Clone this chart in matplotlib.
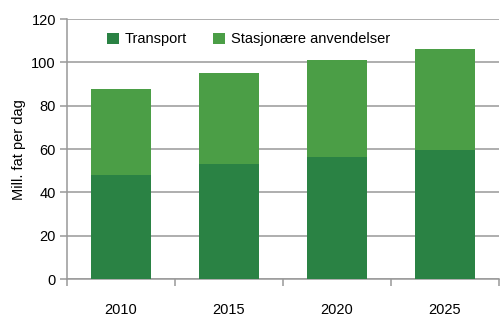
import matplotlib.pyplot as plt
import numpy as np

plt.rcParams['font.family'] = ['Liberation Sans', 'DejaVu Sans']

years = ['2010', '2015', '2020', '2025']
transport = [48, 53, 56.5, 59.5]
stasjonaere = [39.5, 42, 44.5, 46.5]

dark = '#2a8244'
light = '#4b9e46'

fig = plt.figure(figsize=(5, 3.28), dpi=100)
ax = fig.add_axes([0.134, 0.149, 0.864, 0.793])

x = np.arange(len(years))
ax.bar(x, transport, width=0.555, color=dark, linewidth=0,
       label='Transport', zorder=3)
ax.bar(x, stasjonaere, bottom=transport, width=0.555, color=light,
       linewidth=0, label='Stasjonære anvendelser', zorder=3)

ax.set_xlim(-0.5, 3.5)
ax.set_ylim(0, 120)
ax.set_yticks(range(0, 121, 20))
ax.yaxis.grid(True, color='#999999', linewidth=1.1, zorder=0)
ax.tick_params(axis='y', length=5, color='#999999', width=1.1, labelsize=10.5, pad=3)

ax.set_xticks(x)
ax.set_xticklabels(years)
ax.set_xticks(np.arange(-0.5, 4, 1), minor=True)
ax.tick_params(axis='x', which='major', length=0, labelsize=10.5, pad=17)
ax.tick_params(axis='x', which='minor', length=5, color='#999999', width=1.1)

for s in ['top', 'right']:
    ax.spines[s].set_visible(False)
ax.spines['left'].set_color('#999999')
ax.spines['bottom'].set_color('#999999')
ax.spines['left'].set_linewidth(1.1)
ax.spines['bottom'].set_linewidth(1.1)

ax.set_ylabel('Mill. fat per dag', fontsize=10.5, labelpad=4)

leg = ax.legend(loc='upper center', bbox_to_anchor=(0.42, 1.0), ncol=2, frameon=True,
                facecolor='white', edgecolor='none', framealpha=1, fontsize=10.5,
                handlelength=0.8, handleheight=0.8, handletextpad=0.4, columnspacing=1.8,
                borderaxespad=0.5)
leg.set_zorder(5)

fig.savefig('out.png', dpi=100)
